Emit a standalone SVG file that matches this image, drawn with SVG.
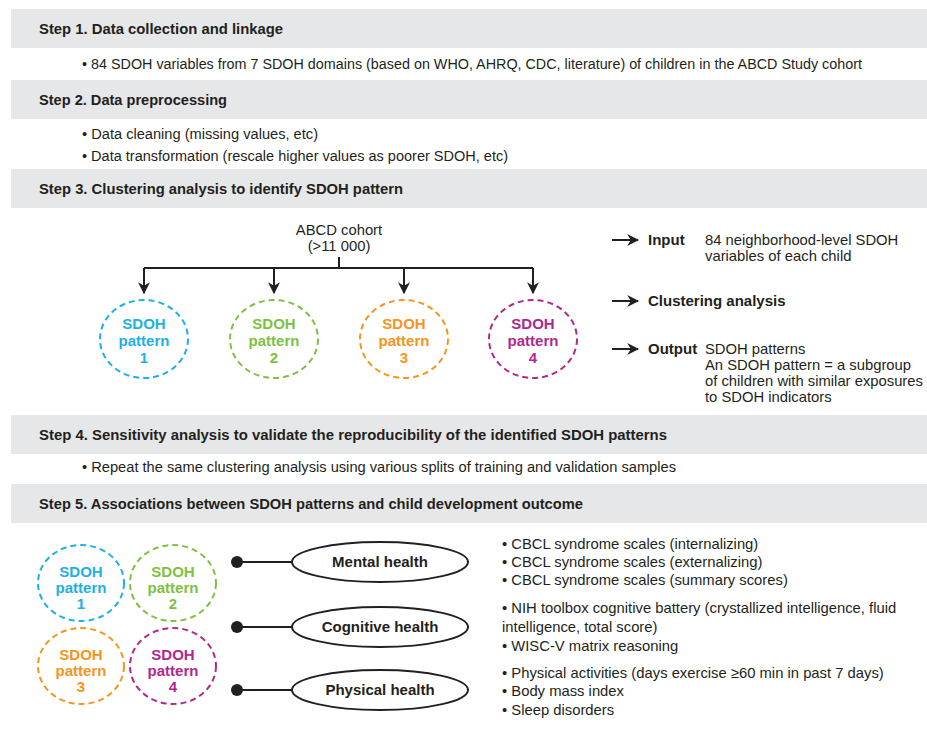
<svg xmlns="http://www.w3.org/2000/svg" width="927" height="742" viewBox="0 0 927 742">
<style>
.bar{fill:#e6e7e8}
.hd{font-family:"Liberation Sans",Arial,sans-serif;font-weight:bold;font-size:15px;fill:#231f20}
.cb{font-family:"Liberation Sans",Arial,sans-serif;font-size:14px;fill:#231f20}
.tx{font-family:"Liberation Sans",Arial,sans-serif;font-size:14.8px;fill:#231f20}
.tb{font-family:"Liberation Sans",Arial,sans-serif;font-size:15px;font-weight:bold;fill:#231f20}
.pl{font-family:"Liberation Sans",Arial,sans-serif;font-size:15px;font-weight:bold;text-anchor:middle}
.dash{fill:none;stroke-width:2;stroke-dasharray:6 4}
.ln{fill:none;stroke:#231f20;stroke-width:2}
.c1{stroke:#1cb0e8;fill:#1cb0e8}
.c2{stroke:#7cc242;fill:#7cc242}
.c3{stroke:#f7941d;fill:#f7941d}
.c4{stroke:#b0278f;fill:#b0278f}
.oe{fill:#fff;stroke:#231f20;stroke-width:2}
</style>
<defs>
<marker id="ah" viewBox="0 0 10 10" refX="9" refY="5" markerWidth="6" markerHeight="6" orient="auto" markerUnits="strokeWidth">
<path d="M0,0 L10,5 L0,10 L3,5 Z" fill="#231f20"/>
</marker>
</defs>
<rect width="927" height="742" fill="#fff"/>

<g id="step1">
<rect class="bar" x="11" y="9" width="916" height="39"/>
<text class="hd" x="39" y="34" textLength="244" lengthAdjust="spacingAndGlyphs">Step 1. Data collection and linkage</text>
<text class="cb" x="82" y="69" textLength="780" lengthAdjust="spacingAndGlyphs">• 84 SDOH variables from 7 SDOH domains (based on WHO, AHRQ, CDC, literature) of children in the ABCD Study cohort</text>
</g>

<g id="step2">
<rect class="bar" x="11" y="80" width="916" height="39"/>
<text class="hd" x="39" y="105" textLength="188" lengthAdjust="spacingAndGlyphs">Step 2. Data preprocessing</text>
<text class="cb" x="82" y="139" textLength="236" lengthAdjust="spacingAndGlyphs">• Data cleaning (missing values, etc)</text>
<text class="cb" x="82" y="161" textLength="426" lengthAdjust="spacingAndGlyphs">• Data transformation (rescale higher values as poorer SDOH, etc)</text>
</g>

<g id="step3">
<rect class="bar" x="11" y="169" width="916" height="39"/>
<text class="hd" x="39" y="194" textLength="364" lengthAdjust="spacingAndGlyphs">Step 3. Clustering analysis to identify SDOH pattern</text>
</g>

<g id="abcd">
<text class="tx" x="339" y="235" text-anchor="middle">ABCD cohort</text>
<text class="tx" x="339" y="251" text-anchor="middle">(&gt;11 000)</text>
</g>

<g id="s3p1"><ellipse class="dash c1" cx="144" cy="339" rx="44" ry="39" style="fill:none"/>
<text class="pl c1" style="stroke:none" x="144" y="329">SDOH</text><text class="pl c1" style="stroke:none" x="144" y="346">pattern</text><text class="pl c1" style="stroke:none" x="144" y="363">1</text></g>
<g id="s3p2"><ellipse class="dash c2" cx="274" cy="339" rx="44" ry="39" style="fill:none"/>
<text class="pl c2" style="stroke:none" x="274" y="329">SDOH</text><text class="pl c2" style="stroke:none" x="274" y="346">pattern</text><text class="pl c2" style="stroke:none" x="274" y="363">2</text></g>
<g id="s3p3"><ellipse class="dash c3" cx="404" cy="339" rx="44" ry="39" style="fill:none"/>
<text class="pl c3" style="stroke:none" x="404" y="329">SDOH</text><text class="pl c3" style="stroke:none" x="404" y="346">pattern</text><text class="pl c3" style="stroke:none" x="404" y="363">3</text></g>
<g id="s3p4"><ellipse class="dash c4" cx="533" cy="339" rx="44" ry="39" style="fill:none"/>
<text class="pl c4" style="stroke:none" x="533" y="329">SDOH</text><text class="pl c4" style="stroke:none" x="533" y="346">pattern</text><text class="pl c4" style="stroke:none" x="533" y="363">4</text></g>

<g id="connectors3">
<path class="ln" d="M339,257 V268 M144,268 H533"/>
<path class="ln" d="M144,268 V293" marker-end="url(#ah)"/>
<path class="ln" d="M274,268 V293" marker-end="url(#ah)"/>
<path class="ln" d="M404,268 V293" marker-end="url(#ah)"/>
<path class="ln" d="M533,268 V293" marker-end="url(#ah)"/>
<path class="ln" d="M612,240 H638" marker-end="url(#ah)"/>
<path class="ln" d="M612,301 H638" marker-end="url(#ah)"/>
<path class="ln" d="M612,349 H638" marker-end="url(#ah)"/>
</g>

<g id="input">
<text class="tb" x="648" y="245">Input</text>
<text class="tx" x="705" y="245">84 neighborhood-level SDOH</text>
<text class="tx" x="705" y="261">variables of each child</text>
</g>
<g id="clustering">
<text class="tb" x="648" y="306">Clustering analysis</text>
</g>
<g id="output">
<text class="tb" x="648" y="354">Output</text>
<text class="tx" x="705" y="354">SDOH patterns</text>
<text class="tx" x="705" y="370">An SDOH pattern = a subgroup</text>
<text class="tx" x="705" y="386">of children with similar exposures</text>
<text class="tx" x="705" y="402">to SDOH indicators</text>
</g>

<g id="step4">
<rect class="bar" x="11" y="415" width="916" height="39"/>
<text class="hd" x="39" y="440" textLength="628" lengthAdjust="spacingAndGlyphs">Step 4. Sensitivity analysis to validate the reproducibility of the identified SDOH patterns</text>
<text class="cb" x="82" y="472" textLength="594" lengthAdjust="spacingAndGlyphs">• Repeat the same clustering analysis using various splits of training and validation samples</text>
</g>

<g id="step5">
<rect class="bar" x="11" y="484" width="916" height="39"/>
<text class="hd" x="39" y="509" textLength="544" lengthAdjust="spacingAndGlyphs">Step 5. Associations between SDOH patterns and child development outcome</text>
</g>

<g id="s5p1"><ellipse class="dash c1" cx="81" cy="583" rx="43" ry="38" style="fill:none"/>
<text class="pl c1" style="stroke:none" x="81" y="577">SDOH</text><text class="pl c1" style="stroke:none" x="81" y="593">pattern</text><text class="pl c1" style="stroke:none" x="81" y="609">1</text></g>
<g id="s5p2"><ellipse class="dash c2" cx="173" cy="583" rx="43" ry="38" style="fill:none"/>
<text class="pl c2" style="stroke:none" x="173" y="577">SDOH</text><text class="pl c2" style="stroke:none" x="173" y="593">pattern</text><text class="pl c2" style="stroke:none" x="173" y="609">2</text></g>
<g id="s5p3"><ellipse class="dash c3" cx="81" cy="666" rx="43" ry="38" style="fill:none"/>
<text class="pl c3" style="stroke:none" x="81" y="660">SDOH</text><text class="pl c3" style="stroke:none" x="81" y="676">pattern</text><text class="pl c3" style="stroke:none" x="81" y="692">3</text></g>
<g id="s5p4"><ellipse class="dash c4" cx="173" cy="666" rx="43" ry="38" style="fill:none"/>
<text class="pl c4" style="stroke:none" x="173" y="660">SDOH</text><text class="pl c4" style="stroke:none" x="173" y="676">pattern</text><text class="pl c4" style="stroke:none" x="173" y="692">4</text></g>

<g id="connectors5">
<path class="ln" d="M237,562 H293 M237,627 H293 M237,690 H293"/>
<circle cx="237" cy="562" r="6" fill="#231f20"/>
<circle cx="237" cy="627" r="6" fill="#231f20"/>
<circle cx="237" cy="690" r="6" fill="#231f20"/>
</g>

<g id="mental"><ellipse class="oe" cx="380" cy="562" rx="88" ry="20"/><text class="tb" x="380" y="567" text-anchor="middle">Mental health</text></g>
<g id="cognitive"><ellipse class="oe" cx="380" cy="627" rx="88" ry="20"/><text class="tb" x="380" y="632" text-anchor="middle">Cognitive health</text></g>
<g id="physical"><ellipse class="oe" cx="380" cy="690" rx="88" ry="20"/><text class="tb" x="380" y="695" text-anchor="middle">Physical health</text></g>

<g id="outcomes">
<text class="tx" x="502" y="549">• CBCL syndrome scales (internalizing)</text>
<text class="tx" x="502" y="567">• CBCL syndrome scales (externalizing)</text>
<text class="tx" x="502" y="585">• CBCL syndrome scales (summary scores)</text>
<text class="tx" x="502" y="613">• NIH toolbox cognitive battery (crystallized intelligence, fluid</text>
<text class="tx" x="502" y="632">intelligence, total score)</text>
<text class="tx" x="502" y="651">• WISC-V matrix reasoning</text>
<text class="tx" x="502" y="678">• Physical activities (days exercise ≥60 min in past 7 days)</text>
<text class="tx" x="502" y="696">• Body mass index</text>
<text class="tx" x="502" y="715">• Sleep disorders</text>
</g>
</svg>
